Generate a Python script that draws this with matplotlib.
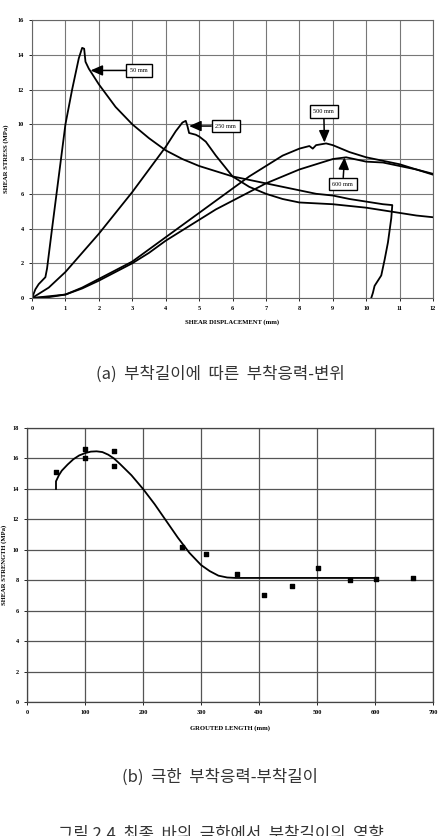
import matplotlib.pyplot as plt
import numpy as np

# (a) shear stress vs displacement, one curve per grouted length
x50 = [0, 0.1, 0.2, 0.3, 0.4, 0.45, 0.6, 0.8, 1.0, 1.2, 1.4, 1.5, 1.56, 1.6, 1.7, 1.8, 2.0, 2.5, 3.0, 3.5,
       4.0, 4.5, 5.0, 5.5, 6.0, 6.5, 7.0, 7.5, 8.0, 8.5, 9.0, 9.5, 10.0, 10.5, 10.78, 10.75, 10.65, 10.55,
       10.45, 10.35, 10.25, 10.2, 10.15]
y50 = [0, 0.5, 0.8, 1.0, 1.2, 1.7, 4.0, 7.0, 10.0, 12.0, 13.8, 14.4, 14.35, 13.6, 13.2, 12.9, 12.3, 11.0,
       10.0, 9.2, 8.5, 8.0, 7.6, 7.3, 7.0, 6.8, 6.6, 6.4, 6.2, 6.0, 5.9, 5.7, 5.55, 5.4, 5.35, 4.6, 3.2,
       2.2, 1.3, 1.0, 0.7, 0.3, 0]
x250 = [0, 0.5, 1.0, 1.5, 2.0, 2.5, 3.0, 3.5, 4.0, 4.3, 4.5, 4.6, 4.65, 4.7, 4.9, 5.0, 5.2, 5.5, 6.0,
        6.5, 7.0, 7.5, 8.0, 8.5, 9.0, 9.5, 10.0, 10.5, 11.0, 11.5, 12.0]
y250 = [0, 0.6, 1.5, 2.6, 3.7, 4.9, 6.1, 7.4, 8.7, 9.6, 10.1, 10.2, 9.9, 9.5, 9.4, 9.3, 9.0, 8.2, 7.0,
        6.4, 6.0, 5.7, 5.5, 5.45, 5.4, 5.3, 5.2, 5.05, 4.9, 4.75, 4.65]
x500 = [0, 0.5, 1.0, 1.5, 2.0, 2.5, 3.0, 3.5, 4.0, 4.5, 5.0, 5.5, 6.0, 6.5, 7.0, 7.5, 8.0, 8.3, 8.4,
        8.5, 8.8, 9.0, 9.5, 10.0, 10.5, 11.0, 11.5, 12.0]
y500 = [0, 0.05, 0.2, 0.6, 1.1, 1.6, 2.1, 2.8, 3.5, 4.2, 4.9, 5.6, 6.3, 7.0, 7.6, 8.2, 8.6, 8.75, 8.6,
        8.8, 8.9, 8.8, 8.4, 8.1, 7.9, 7.7, 7.4, 7.1]
x600 = [0, 1.0, 1.5, 2.0, 2.5, 3.0, 3.5, 4.0, 4.5, 5.0, 5.5, 6.0, 6.5, 7.0, 7.5, 8.0, 8.5, 9.0, 9.4,
        10.0, 10.5, 11.0, 11.5, 12.0]
y600 = [0, 0.2, 0.55, 1.0, 1.5, 2.0, 2.6, 3.3, 3.9, 4.5, 5.1, 5.6, 6.1, 6.6, 7.0, 7.4, 7.7, 8.0, 8.1,
        7.85, 7.8, 7.6, 7.4, 7.15]

labels = ['50 mm', '250 mm', '500 mm', '600 mm']
label_xy = [(3.2, 13.1), (5.8, 9.9), (8.73, 10.75), (9.3, 6.55)]
arrow_tip = [(1.75, 13.1), (4.7, 9.9), (8.75, 8.95), (9.35, 8.1)]

# (b) shear strength vs grouted length
test_len = [50, 100, 100, 150, 150, 268, 308, 362, 409, 457, 502, 557, 601, 666]
test_str = [15.1, 16.6, 16.0, 16.5, 15.5, 10.2, 9.7, 8.4, 7.0, 7.6, 8.8, 8.0, 8.05, 8.15]
fit_len = [50, 50, 55, 60, 70, 80, 90, 100, 110, 120, 130, 140, 150, 160, 180, 200, 220, 240, 260,
           280, 300, 315, 330, 345, 360, 400, 500, 600]
fit_str = [14.0, 14.5, 14.9, 15.2, 15.6, 15.95, 16.2, 16.35, 16.45, 16.47, 16.42, 16.25, 16.0, 15.65,
           14.9, 14.0, 13.0, 11.9, 10.8, 9.8, 9.0, 8.6, 8.3, 8.18, 8.15, 8.15, 8.15, 8.15]

serif = 'Liberation Serif'
fig = plt.figure(figsize=(4.41, 8.36), dpi=100)

ax1 = fig.add_axes([0.0726, 0.6435, 0.9094, 0.3325])
ax1.plot(x50, y50, color='black', lw=1.3)
ax1.plot(x250, y250, color='black', lw=1.3)
ax1.plot(x500, y500, color='black', lw=1.3)
ax1.plot(x600, y600, color='black', lw=1.3)
for lab, (tx, ty), (ax_, ay) in zip(labels, label_xy, arrow_tip):
    ax1.annotate(lab, xy=(ax_, ay), xytext=(tx, ty), ha='center', va='center',
                 fontsize=4.5, family=serif,
                 bbox=dict(boxstyle='square,pad=0.6', fc='white', ec='black', lw=1.0),
                 arrowprops=dict(arrowstyle='-|>,head_length=1.6,head_width=0.7', color='black', lw=1.1,
                                 shrinkA=0, shrinkB=0))
ax1.set_xlim(0, 12)
ax1.set_ylim(0, 16)
ax1.set_xticks(range(0, 13))
ax1.set_yticks(range(0, 17, 2))
ax1.grid(True, color='#777777', lw=0.8)
ax1.set_axisbelow(True)
ax1.tick_params(labelsize=4.5, length=2, width=0.6, pad=4)
for t in ax1.get_xticklabels() + ax1.get_yticklabels():
    t.set_family(serif)
    t.set_fontweight('bold')
ax1.set_xlabel('SHEAR DISPLACEMENT (mm)', fontsize=4.8, family=serif, fontweight='bold', labelpad=6)
ax1.set_ylabel('SHEAR STRESS (MPa)', fontsize=4.8, family=serif, fontweight='bold', labelpad=6)
for s in ax1.spines.values():
    s.set_color('#666666')
    s.set_linewidth(0.8)

ax2 = fig.add_axes([0.0612, 0.1603, 0.9208, 0.3277])
ax2.plot(fit_len, fit_str, color='black', lw=1.3)
ax2.scatter(test_len, test_str, marker='s', s=6, color='black', zorder=3)
ax2.set_xlim(0, 700)
ax2.set_ylim(0, 18)
ax2.set_xticks(range(0, 701, 100))
ax2.set_yticks(range(0, 19, 2))
ax2.grid(True, color='#555555', lw=0.9)
ax2.set_axisbelow(True)
ax2.tick_params(labelsize=4.5, length=2, width=0.6, pad=4)
for t in ax2.get_xticklabels() + ax2.get_yticklabels():
    t.set_family(serif)
    t.set_fontweight('bold')
ax2.set_xlabel('GROUTED LENGTH (mm)', fontsize=4.8, family=serif, fontweight='bold', labelpad=7)
ax2.set_ylabel('SHEAR STRENGTH (MPa)', fontsize=4.8, family=serif, fontweight='bold', labelpad=4)
for s in ax2.spines.values():
    s.set_color('#444444')
    s.set_linewidth(0.9)

kr = ['Noto Sans CJK KR', 'DejaVu Sans']
fig.text(0.5, 1 - 374 / 836, '(a)  부착길이에  따른  부착응력-변위', ha='center', va='center',
         fontsize=12, family=kr, color='#333333')
fig.text(0.5, 1 - 777 / 836, '(b)  극한  부착응력-부착길이', ha='center', va='center',
         fontsize=12, family=kr, color='#333333')
fig.text(0.5, 1 - 835 / 836, '그림 2.4  최종  바의  극한에서  부착길이의  영향', ha='center', va='center',
         fontsize=12, family=kr, color='#333333')

fig.savefig('out.png', dpi=100)
